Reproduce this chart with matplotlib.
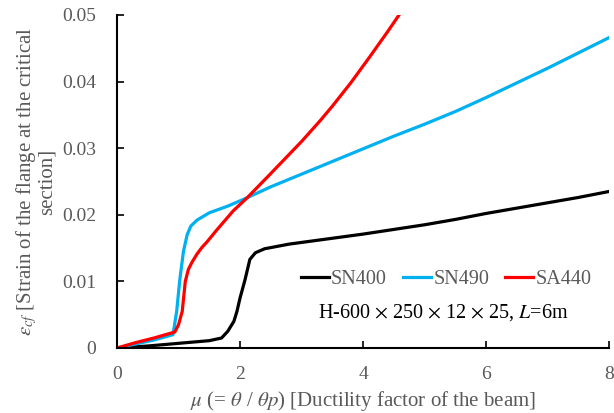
import matplotlib as mpl
mpl.use('Agg')
import matplotlib.pyplot as plt

# strain of the flange vs ductility factor, three steel grades
sn400_mu = [0, 0.5, 1.0, 1.5, 1.7, 1.8, 1.9, 1.95, 2.0, 2.08, 2.16, 2.25, 2.4, 2.8, 3.2, 3.6,
            4.0, 4.5, 5.0, 5.5, 6.0, 6.5, 7.0, 7.5, 8.0]
sn400_eps = [0, 0.0003, 0.0007, 0.0011, 0.0015, 0.0025, 0.004, 0.0055, 0.0075, 0.0102, 0.0133,
             0.0143, 0.0149, 0.0156, 0.0161, 0.0166, 0.0171, 0.0178, 0.0185, 0.0193, 0.0202,
             0.0210, 0.0218, 0.0226, 0.0235]

sn490_mu = [0, 0.3, 0.6, 0.91, 0.97, 1.02, 1.08, 1.14, 1.2, 1.3, 1.5, 1.8, 2.1, 2.5, 3.0, 3.5,
            4.0, 4.5, 5.0, 5.5, 6.0, 6.5, 7.0, 7.5, 8.0]
sn490_eps = [0, 0.0006, 0.0012, 0.0020, 0.0055, 0.0102, 0.0145, 0.0170, 0.0183, 0.0192, 0.0203,
             0.0213, 0.0225, 0.0242, 0.0261, 0.0280, 0.0299, 0.0318, 0.0336, 0.0355, 0.0376,
             0.0398, 0.0420, 0.0443, 0.0466]

sa440_mu = [0, 0.3, 0.6, 0.94, 1.0, 1.06, 1.11, 1.16, 1.22, 1.3, 1.38, 1.46, 1.62, 1.89, 2.11,
            2.5, 3.0, 3.3, 3.5, 3.8, 4.1, 4.4, 4.6, 4.7]
sa440_eps = [0, 0.0008, 0.0015, 0.0024, 0.0035, 0.0055, 0.0100, 0.0118, 0.0129, 0.0141, 0.0151,
             0.0159, 0.0177, 0.0206, 0.0225, 0.0262, 0.0310, 0.0341, 0.0363, 0.0398, 0.0436,
             0.0475, 0.0502, 0.0516]

x_ticks = [0, 2, 4, 6, 8]
y_ticks = [0, 0.01, 0.02, 0.03, 0.04, 0.05]
y_ticklabels = ['0', '0.01', '0.02', '0.03', '0.04', '0.05']

grey = '#595959'
serif = ['Liberation Serif', 'DejaVu Serif']
plt.rcParams['font.family'] = serif
plt.rcParams['mathtext.fontset'] = 'stix'
plt.rcParams['font.size'] = 14

fig = plt.figure(figsize=(6.14, 4.13), dpi=100)
ax = fig.add_axes([0.1906, 0.1574, 0.8013, 0.8063])

ax.plot(sn400_mu, sn400_eps, color='black', lw=2.3, label='SN400')
ax.plot(sn490_mu, sn490_eps, color='#00B0F0', lw=2.3, label='SN490')
ax.plot(sa440_mu, sa440_eps, color='#FF0000', lw=2.3, label='SA440')

ax.set_xlim(0, 8)
ax.set_ylim(0, 0.05)
ax.set_xticks(x_ticks)
ax.set_yticks(y_ticks)
ax.set_yticklabels(y_ticklabels)
ax.tick_params(direction='in', length=5, width=1.2, colors='black', labelcolor=grey,
               labelsize=14, pad=15)
ax.tick_params(axis='x', pad=13)
for s in ['top', 'right']:
    ax.spines[s].set_visible(False)
for s in ['left', 'bottom']:
    ax.spines[s].set_linewidth(1.5)

ax.set_xlabel(r'$\mu$ (= $\theta$ / $\theta p$) [Ductility factor of the beam]', color=grey,
              fontsize=15, labelpad=4)
ax.set_ylabel('$\\varepsilon_{cf}$ [Strain of the flange at the critical\nsection]',
              color=grey, fontsize=15, labelpad=4, linespacing=0.9)

leg = ax.legend(loc='center', bbox_to_anchor=(0.669, 0.205), ncol=3, frameon=False,
                handlelength=1.4, handletextpad=0.1, columnspacing=0.8,
                prop={'family': serif, 'size': 14.5})
for t in leg.get_texts():
    t.set_color(grey)

ax.text(0.663, 0.105, r'H-600 $\times$ 250 $\times$ 12 $\times$ 25, $L$=6m', transform=ax.transAxes,
        ha='center', va='center', fontsize=14.5, color='black')

fig.savefig('out.png', dpi=100)
